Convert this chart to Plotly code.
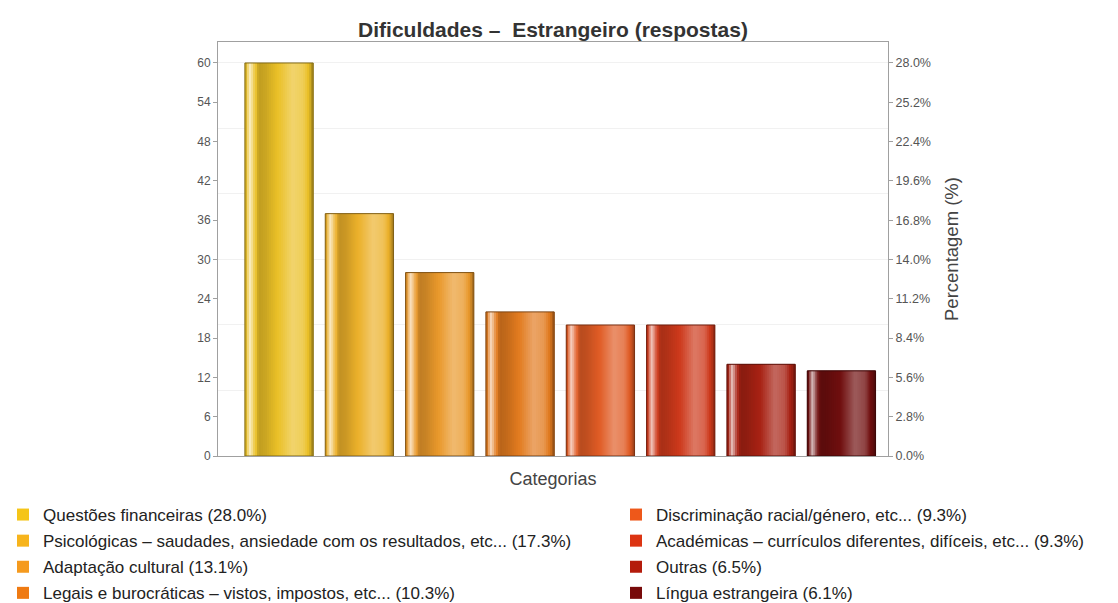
import plotly.graph_objects as go

categorias = [
    "Questões financeiras",
    "Psicológicas – saudades, ansiedade com os resultados, etc...",
    "Adaptação cultural",
    "Legais e burocráticas – vistos, impostos, etc...",
    "Discriminação racial/género, etc...",
    "Académicas – currículos diferentes, difíceis, etc...",
    "Outras",
    "Língua estrangeira",
]
respostas = [60, 37, 28, 22, 20, 20, 14, 13]
cores = ["#f5c518", "#f7b41c", "#f59a1e", "#ef7a12",
         "#ee581a", "#dc3412", "#b41c0c", "#780a0a"]
ticks_resp = [0, 6, 12, 18, 24, 30, 36, 42, 48, 54, 60]

total = sum(respostas)
pct = [v * 100 / total for v in respostas]
ymax = 63.2
xs = list(range(len(respostas)))
w = 0.85

# the page body adds an 8px offset, so the figure is 8px smaller
W, H = 1110, 595
ML, MR, MT, MB = 210, 230, 34, 147
PW = W - ML - MR


def rgb(h):
    h = h.lstrip("#")
    return [int(h[i:i + 2], 16) for i in (0, 2, 4)]


def shade(h, f):
    # f>0 mixes with white, f<0 with black; slightly muted like the original
    r = rgb(h)
    g = sum(r) / 3
    r = [c * 0.88 + g * 0.12 for c in r]
    if f >= 0:
        r = [c + (255 - c) * f for c in r]
    else:
        r = [c * (1 + f) for c in r]
    return "rgb(%d,%d,%d)" % tuple(round(c) for c in r)


# cylinder-like shading across each bar
perfil = [(0.0, -0.35), (0.03, 0.2), (0.08, 0.75), (0.12, 0.3), (0.2, -0.18),
          (0.3, -0.14), (0.5, 0.02), (0.7, 0.32), (0.85, 0.22), (0.95, -0.08), (1.0, -0.35)]


def fator(t):
    for (t0, f0), (t1, f1) in zip(perfil, perfil[1:]):
        if t0 <= t <= t1:
            return f0 + (f1 - f0) * (t - t0) / (t1 - t0)
    return perfil[-1][1]


fig = go.Figure()

for i, (cat, v, c) in enumerate(zip(categorias, respostas, cores)):
    fig.add_trace(go.Bar(
        x=[i], y=[v], width=w, marker=dict(color=c, line=dict(width=0)),
        name="%s (%.1f%%)" % (cat, pct[i]), legendgroup="g%d" % i,
        legend="legend" if i < 4 else "legend2",
    ))

n = 34
passo = w / n
for k in range(n):
    t = (k + 0.5) / n
    larg = passo * 2 if k < n - 1 else passo
    fig.add_trace(go.Bar(
        x=xs, y=respostas, width=larg, offset=-w / 2 + k * passo,
        marker=dict(color=[shade(c, fator(t)) for c in cores], line=dict(width=0)),
        showlegend=False, hoverinfo="skip",
    ))

# outline, drawn on the percentage axis
fig.add_trace(go.Bar(
    x=xs, y=pct, width=w, yaxis="y2",
    marker=dict(color="rgba(0,0,0,0)",
                line=dict(color=[shade(c, -0.45) for c in cores], width=1)),
    showlegend=False, hoverinfo="skip",
))
# holder for the faint grid axis
fig.add_trace(go.Scatter(x=[0], y=[0], yaxis="y3", mode="markers",
                         marker=dict(opacity=0), showlegend=False, hoverinfo="skip"))

eixo = dict(showline=True, linecolor="#a0a0a0", linewidth=1, zeroline=False)
leg = dict(xref="paper", y=1 - 489 / H, yref="container",
           yanchor="top", xanchor="left", itemwidth=30, tracegroupgap=1,
           font=dict(size=17, color="#222"), bgcolor="rgba(0,0,0,0)")
fig.update_layout(
    width=W, height=H,
    barmode="overlay",
    paper_bgcolor="white", plot_bgcolor="white",
    font=dict(family="Liberation Sans, Arial, sans-serif", color="#444"),
    margin=dict(l=ML, r=MR, t=MT, b=MB, autoexpand=False),
    title=dict(text="<b>Dificuldades –\u00a0 Estrangeiro (respostas)</b>",
               x=0.5, xref="paper", xanchor="center",
               y=1 - 22 / H, yref="container", yanchor="middle",
               font=dict(size=21, color="#333")),
    xaxis=dict(range=[-0.76, 7.58], showticklabels=False, ticks="", showgrid=False,
               mirror=True, title=dict(text="Categorias", standoff=16,
                                       font=dict(size=18, color="#444")), **eixo),
    yaxis=dict(range=[0, ymax], tickvals=ticks_resp, ticks="outside", ticklen=4,
               tickcolor="#a0a0a0", showgrid=False,
               tickfont=dict(size=12, color="#555"), **eixo),
    yaxis2=dict(range=[0, ymax * 100 / total], overlaying="y", side="right",
                tickvals=[t * 100 / total for t in ticks_resp],
                ticktext=["%.1f%%" % (t * 100 / total) for t in ticks_resp],
                ticks="outside", ticklen=4, tickcolor="#a0a0a0", showgrid=False,
                tickfont=dict(size=12.5, color="#555"),
                title=dict(text="Percentagem (%)",
                           font=dict(size=18.5, color="#444")), **eixo),
    yaxis3=dict(range=[0, ymax], overlaying="y", dtick=10, showgrid=True,
                gridcolor="#f1f1f1", showticklabels=False, ticks="", showline=False,
                zeroline=False),
    legend=dict(x=(-5 - ML) / PW, **leg),
    legend2=dict(x=(608 - ML) / PW, **leg),
)

fig.write_html("out.html")
